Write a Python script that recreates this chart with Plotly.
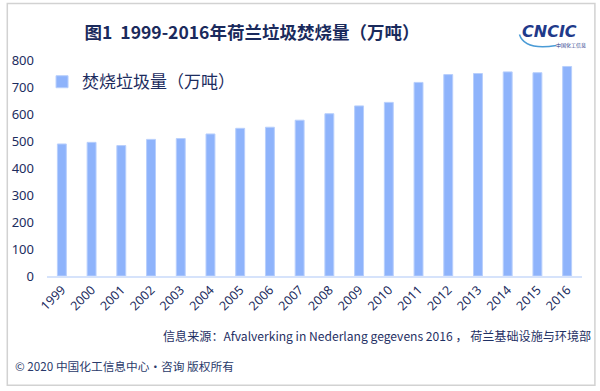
import plotly.graph_objects as go

years = ["1999", "2000", "2001", "2002", "2003", "2004", "2005", "2006", "2007",
         "2008", "2009", "2010", "2011", "2012", "2013", "2014", "2015", "2016"]
values = [489, 495, 483, 506, 509, 526, 547, 551, 577,
          601, 630, 643, 717, 746, 750, 756, 753, 776]
series_name = "焚烧垃圾量（万吨）"
y_ticks = [0, 100, 200, 300, 400, 500, 600, 700, 800]

W, H = 600, 391
L, R, T, B = 43, 18, 59.5, 115.3
PW, PH = W - L - R, H - T - B

def px(x):
    return (x - L) / PW

def py(y):
    return 1 - (y - T) / PH

NAVY = "#1c2c5e"
FONT = "Noto Sans, Noto Sans CJK SC, sans-serif"
CJK = "Noto Sans CJK SC, Noto Sans, sans-serif"

fig = go.Figure()
fig.add_trace(go.Bar(
    x=years, y=values, name=series_name,
    marker=dict(color="#8eb3fb", line=dict(color="#b8cffc", width=1)),
    showlegend=True,
))

fig.update_layout(
    width=W, height=H,
    margin=dict(l=L, r=R, t=T, b=B, pad=0),
    paper_bgcolor="white", plot_bgcolor="white",
    bargap=0.7,
    font=dict(family=FONT, color=NAVY),
    title=dict(
        text="<b>图1  1999-2016年荷兰垃圾焚烧量（万吨）</b>",
        font=dict(family=CJK, size=17.5, color="#1a2a5c"),
        xref="container", yref="container",
        x=252 / W, xanchor="center", y=1 - 33 / H, yanchor="middle",
    ),
    legend=dict(
        x=px(38), y=py(81.7), xanchor="left", yanchor="middle",
        font=dict(family=CJK, size=17, color=NAVY),
        bgcolor="rgba(0,0,0,0)", itemwidth=30,
    ),
    xaxis=dict(
        type="category", tickangle=-45,
        tickfont=dict(family=FONT, size=12.5, color=NAVY),
        showline=True, linecolor="#d6e3fb", linewidth=1.5,
        showgrid=False, ticks="", zeroline=False,
    ),
    yaxis=dict(
        range=[0, 800], tickvals=y_ticks,
        tickfont=dict(family=FONT, size=13, color=NAVY),
        showgrid=False, zeroline=False, showline=False, ticks="",
        ticklabelstandoff=12,
    ),
)

# outer frame
fig.add_shape(type="rect", xref="paper", yref="paper",
              x0=px(3), x1=px(595), y0=py(3), y1=py(385),
              line=dict(color="#d2d2d2", width=1.5), fillcolor="rgba(0,0,0,0)")

# logo swoosh
fig.add_shape(type="path", xref="paper", yref="paper",
              path=f"M {px(519)},{py(34)} Q {px(524)},{py(50)} {px(556)},{py(45)}",
              line=dict(color="#4a9bd6", width=1.5))

annots = [
    dict(text="<b><i>CNCIC</i></b>", x=px(549), y=py(31), font=dict(family="DejaVu Sans", size=16, color="#1f3a8a")),
    dict(text="中国化工信息", x=px(571), y=py(44), font=dict(family=CJK, size=5, color="#1f3a8a")),
    dict(text="信息来源：Afvalverking in Nederlang gegevens 2016 ， 荷兰基础设施与环境部",
         x=px(593), y=py(335), xanchor="right", font=dict(family=CJK, size=12.1, color="#1f3064")),
    dict(text="© 2020 中国化工信息中心·咨询 版权所有",
         x=px(9), y=py(365), xanchor="left", font=dict(family=CJK, size=11.7, color="#2a3a6a")),
]
for a in annots:
    a.setdefault("xanchor", "center")
    fig.add_annotation(xref="paper", yref="paper", yanchor="middle", showarrow=False, **a)

fig.write_html("out.html", config={"displayModeBar": False},
               post_script="document.body.style.margin='0';document.body.style.padding='0';")
